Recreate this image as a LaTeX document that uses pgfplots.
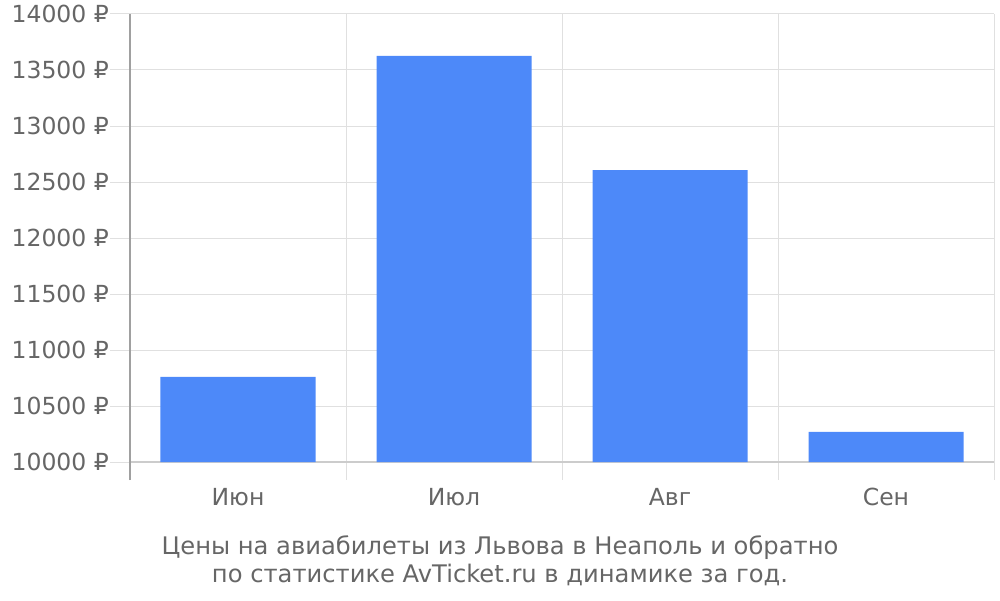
\documentclass[border=0pt]{standalone}
\usepackage{fontspec}
\setmainfont{DejaVu Sans}
\usepackage{pgfplots}
\pgfplotsset{compat=1.18}
\definecolor{barblue}{HTML}{4D89F9}
\definecolor{gridgray}{HTML}{E0E0E0}
\definecolor{axisgray}{HTML}{A0A0A0}
\definecolor{basegray}{HTML}{CCCCCC}
\definecolor{txtgray}{HTML}{666666}
\begin{document}
\begin{tikzpicture}[x=1pt,y=1pt]
\useasboundingbox (-130,-138) rectangle (870,462);
\begin{axis}[
  at={(0,0)}, anchor=south west,
  scale only axis, width=864pt, height=448pt,
  xmin=0, xmax=4, ymin=10000, ymax=14000,
  scaled y ticks=false,
  axis lines*=left,
  x axis line style={draw=basegray, line width=1.2pt},
  y axis line style={draw=axisgray, line width=1.2pt, shorten <=-18pt},
  tick align=outside,
  ytick={10000,10500,...,14000},
  yticklabels={10000 ₽,10500 ₽,11000 ₽,11500 ₽,12000 ₽,12500 ₽,13000 ₽,13500 ₽,14000 ₽},
  xtick={0.5,1.5,2.5,3.5},
  xticklabels={Июн,Июл,Авг,Сен},
  minor xtick={0,1,2,3,4},
  xminorgrids, ymajorgrids,
  grid style={draw=gridgray, line width=1pt},
  minor grid style={draw=gridgray, line width=1pt},
  major tick length=20pt, minor tick length=18pt,
  ytick style={draw=gridgray, line width=1pt},
  xtick style={draw=none},
  minor x tick style={draw=gridgray, line width=1pt},
  tick label style={font=\fontsize{23.5}{27}\selectfont, text=txtgray},
  /pgf/number format/assume math mode=true,
  yticklabel style={inner sep=1pt},
  xticklabel style={inner sep=0pt, yshift=-6pt},
  clip=true,
]
\addplot[ybar, bar width=155pt, fill=barblue, draw=none] coordinates {(0.5,10760) (1.5,13625) (2.5,12607) (3.5,10268)};
\end{axis}
\node[align=center, text=txtgray, font=\fontsize{24.2}{28}\selectfont] at (370,-99) {Цены на авиабилеты из Львова в Неаполь и обратно\\по статистике AvTicket.ru в динамике за год.};
\end{tikzpicture}
\end{document}
